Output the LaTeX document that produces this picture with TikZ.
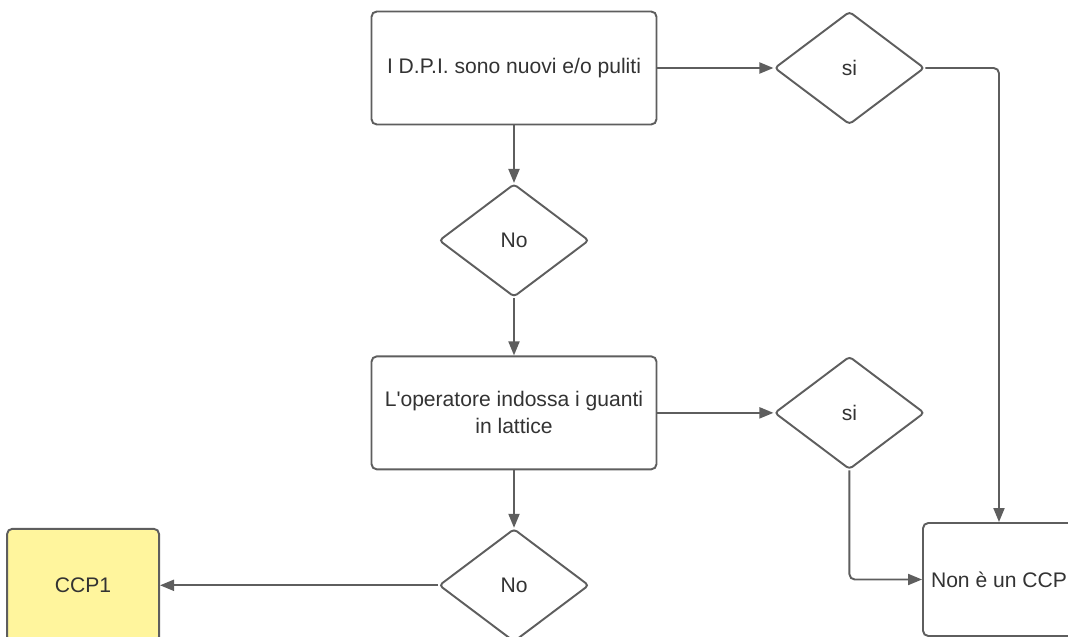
\documentclass[tikz,border=0pt]{standalone}
\usepackage{fontspec}
\setmainfont{Liberation Sans}
\usepackage{tikz}
\usetikzlibrary{shapes.geometric, arrows.meta, positioning}
\definecolor{linegray}{HTML}{5E5E5E}
\definecolor{textgray}{HTML}{333333}
\definecolor{ccpyellow}{HTML}{FFF59D}
\tikzset{
  block/.style={
    rectangle, rounded corners=3pt, minimum width=5.7cm, minimum height=2.26cm,
    align=center, draw=linegray, line width=1.1pt, fill=white,
    text=textgray, font=\fontsize{12pt}{15.4pt}\selectfont
  },
  decision/.style={
    diamond, rounded corners=2pt, minimum width=3cm, minimum height=2.26cm,
    inner sep=0pt, align=center, draw=linegray, line width=1.1pt, fill=white,
    text=textgray, font=\fontsize{12pt}{15.4pt}\selectfont
  },
  arrow/.style={-{Triangle[length=0.28cm, width=0.22cm]}, line width=1.1pt, color=linegray}
}
\begin{document}
\begin{tikzpicture}[node distance=1.15cm and 2.32cm]
  \useasboundingbox (0,0) rectangle (21.36,12.72);
  \clip (0,0) rectangle (21.36,12.72);

  \node[block] (dpi) at (10.28,11.36) {I D.P.I. sono nuovi e/o puliti};
  \node[decision, right=of dpi] (si1) {si};
  \node[decision, below=of dpi] (no1) {No};
  \node[block, below=of no1] (guanti) {L\textquotesingle operatore indossa i guanti\\in lattice};
  \node[decision, right=of guanti] (si2) {si};
  \node[decision, below=of guanti] (no2) {No};
  \node[block, fill=ccpyellow, minimum width=3.04cm, left=5.56cm of no2] (ccp) {CCP1};
  \node[block, minimum width=3.04cm] (noccp) at (19.98,1.13) {Non è un CCP};

  \draw[arrow] (dpi) -- (si1);
  \draw[arrow] (dpi) -- (no1);
  \draw[arrow] (no1) -- (guanti);
  \draw[arrow] (guanti) -- (si2);
  \draw[arrow] (guanti) -- (no2);
  \draw[arrow] (no2) -- (ccp);
  \draw[arrow, rounded corners=3pt] (si1.east) -| (noccp.north);
  \draw[arrow, rounded corners=3pt] (si2.south) |- (noccp.west);
\end{tikzpicture}
\end{document}
